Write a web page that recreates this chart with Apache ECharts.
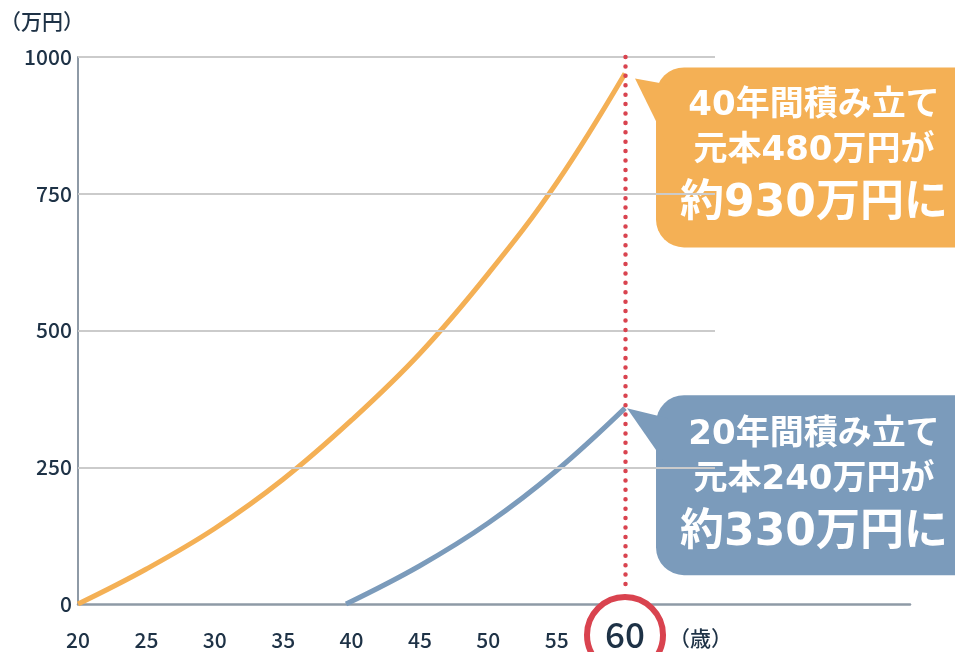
<!DOCTYPE html>
<html>
<head>
<meta charset="utf-8">
<script src="https://cdn.jsdelivr.net/npm/echarts@6/dist/echarts.min.js"></script>
<style>
    html, body { margin: 0; padding: 0; background: #fff; }
    #main { width: 955px; height: 652px; }
</style>
</head>
<body>
<div id="main"></div>
<script>
// data
var ages40 = [20, 25, 30, 35, 40, 45, 50, 55, 60];
var total40 = [0, 64, 138, 228, 336, 458, 604, 770, 970];
var ages20 = [39.6, 45, 50, 55, 60];
var total20 = [0, 70, 148, 244, 358];
var xTicks = [20, 25, 30, 35, 40, 45, 50, 55, 60];
var yTicks = [0, 250, 500, 750, 1000];
var callout40 = ['40年間積み立て', '元本480万円が', '約930万円に'];
var callout20 = ['20年間積み立て', '元本240万円が', '約330万円に'];
var markAge = 60;

var textColor = '#1E3246';
var axisColor = '#8E9AA6';
var orange = '#F4B055';
var blue = '#7B9BBB';
var red = '#D9434F';
var font = '"Noto Sans CJK JP", "Noto Sans", sans-serif';
var boxFont = '"DejaVu Sans", "Noto Sans CJK JP", sans-serif';

var xMax = 80.84;     // axis line runs past the last label
var gridEnd = 66.58;  // horizontal grid lines stop here

function pairs(xs, ys) {
    var res = [];
    for (var i = 0; i < xs.length; i++) res.push([xs[i], ys[i]]);
    return res;
}

var gridLines = [];
for (var i = 0; i < yTicks.length; i++) {
    if (yTicks[i] === 0) continue;
    gridLines.push([{ coord: [xTicks[0], yTicks[i]] }, { coord: [gridEnd, yTicks[i]] }]);
}

var myChart = echarts.init(document.getElementById('main'));

var option = {
    animation: false,
    grid: { left: 78, top: 57, right: 45, bottom: 48, containLabel: false, outerBoundsMode: 'none' },
    xAxis: {
        type: 'value',
        min: xTicks[0],
        max: xMax,
        interval: 5,
        axisLine: { show: true, lineStyle: { color: axisColor, width: 2.5 } },
        axisTick: { show: false },
        splitLine: { show: false },
        axisLabel: {
            margin: 26,
            color: textColor,
            fontSize: 21,
            fontWeight: 500,
            fontFamily: font,
            showMaxLabel: false,
            formatter: function (v) {
                if (xTicks.indexOf(v) < 0 || v === markAge) return '';
                return '' + v;
            }
        }
    },
    yAxis: {
        type: 'value',
        min: 0,
        max: 1000,
        interval: 250,
        name: '（万円）',
        nameLocation: 'end',
        nameGap: 25,
        nameTextStyle: { color: textColor, fontSize: 21, fontWeight: 500, fontFamily: font, align: 'center', padding: [0, 72, 0, 0] },
        axisLine: { show: true, lineStyle: { color: axisColor, width: 2 } },
        axisTick: { show: false },
        splitLine: { show: false },
        axisLabel: {
            margin: 6,
            color: textColor,
            fontSize: 21,
            fontWeight: 500,
            fontFamily: font,
            formatter: function (v) { return '' + v; }
        }
    },
    series: [
        {
            name: 'grid',
            type: 'line',
            data: [],
            z: 1,
            silent: true,
            markLine: {
                silent: true,
                symbol: 'none',
                label: { show: false },
                lineStyle: { color: '#CBCBCB', width: 2, type: 'solid' },
                data: gridLines
            }
        },
        {
            name: '40年',
            type: 'line',
            data: pairs(ages40, total40),
            smooth: 0.4,
            showSymbol: false,
            z: 3,
            lineStyle: { color: orange, width: 5 },
            markLine: {
                silent: true,
                symbol: 'none',
                label: { show: false },
                lineStyle: { color: red, width: 4.5, type: [0.01, 9.4], cap: 'round' },
                data: [[{ coord: [markAge, 1000] }, { coord: [markAge, 28] }]]
            }
        },
        {
            name: '20年',
            type: 'line',
            data: pairs(ages20, total20),
            smooth: 0.4,
            showSymbol: false,
            z: 3,
            lineStyle: { color: blue, width: 5 }
        }
    ]
};

myChart.setOption(option);

function callout(p, boxTop, lines, color, tri, rows) {
    var bx = p[0] + 31;
    var children = [
        {
            type: 'rect',
            shape: { x: bx, y: boxTop, width: 330, height: 180, r: 28 },
            style: { fill: color }
        },
        {
            type: 'polygon',
            shape: { points: [[tri[0][0], tri[0][1]], [bx + 12, tri[1]], [bx + 12, tri[2]]] },
            style: { fill: color }
        }
    ];
    for (var i = 0; i < lines.length; i++) {
        children.push({
            type: 'text',
            style: {
                text: lines[i],
                x: 814,
                y: boxTop + rows[i],
                fill: '#fff',
                font: 'bold ' + (i === 2 ? 44 : 34) + 'px ' + boxFont,
                align: 'center',
                verticalAlign: 'middle'
            }
        });
    }
    return { type: 'group', z: 10, children: children };
}

var p40 = myChart.convertToPixel({ seriesIndex: 1 }, [60, total40[total40.length - 1]]);
var p20 = myChart.convertToPixel({ seriesIndex: 2 }, [60, total20[total20.length - 1]]);
var pMark = myChart.convertToPixel({ seriesIndex: 1 }, [markAge, 0]);

myChart.setOption({
    graphic: [
        callout(p40, p40[1] - 6, callout40, orange,
            [[p40[0] + 10, p40[1] + 5], p40[1] + 11, p40[1] + 72], [39, 84, 137]),
        callout(p20, p20[1] - 13, callout20, blue,
            [[p20[0] + 2, p20[1]], p20[1] + 10, p20[1] + 59], [40, 85, 138]),
        {
            type: 'circle',
            z: 10,
            shape: { cx: pMark[0], cy: pMark[1] + 31, r: 38 },
            style: { fill: '#fff', stroke: red, lineWidth: 6 }
        },
        {
            type: 'text',
            z: 11,
            style: {
                text: '' + markAge,
                x: pMark[0],
                y: pMark[1] + 31,
                fill: textColor,
                font: '500 35px ' + font,
                align: 'center',
                verticalAlign: 'middle'
            }
        },
        {
            type: 'text',
            z: 11,
            style: {
                text: '（歳）',
                x: pMark[0] + 44,
                y: pMark[1] + 34,
                fill: textColor,
                font: '500 21px ' + font,
                align: 'left',
                verticalAlign: 'middle'
            }
        }
    ]
});
</script>
</body>
</html>
